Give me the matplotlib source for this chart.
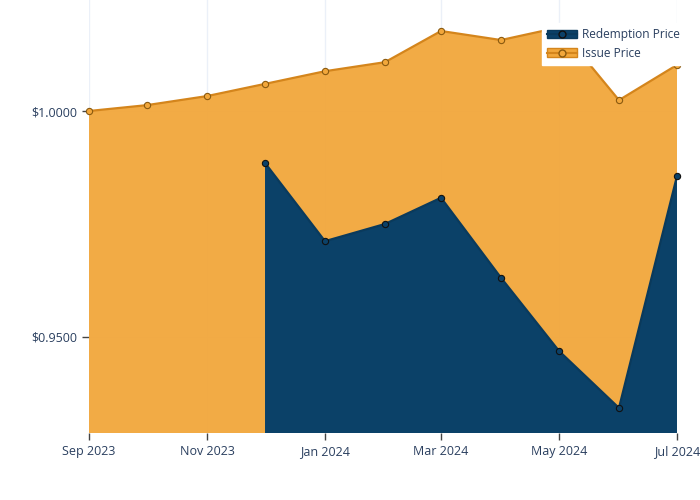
import pandas as pd
import matplotlib
matplotlib.use("Agg")
import matplotlib.pyplot as plt
import matplotlib.dates as mdates
from matplotlib.patches import Patch
from matplotlib.lines import Line2D
from matplotlib.ticker import FuncFormatter

plt.rcParams['font.family'] = ['Open Sans', 'DejaVu Sans']

months = pd.date_range("2023-09-01", "2024-07-01", freq="MS")
issue_price = [1.0000, 1.0013, 1.0033, 1.0060, 1.0088, 1.0108,
               1.0177, 1.0157, 1.0185, 1.0024, 1.0102]
redemption_months = months[3:]
redemption_price = [0.9885, 0.9712, 0.9750, 0.9808, 0.9631,
                    0.9469, 0.9343, 0.9856]

orange = '#F2A73B'
orange_line = '#D4851C'
navy = '#0B4168'
navy_line = '#0A3A5C'
text_col = '#2a3f5f'

fig = plt.figure(figsize=(7, 5), dpi=100)
ax = fig.add_axes([89 / 700, 67 / 500, 588 / 700, 433 / 500])

ymin, ymax = 0.92876, 1.02456
ax.fill_between(months, issue_price, ymin - 1, color=orange, alpha=0.95, linewidth=0, zorder=2)
ax.plot(months, issue_price, color=orange_line, linewidth=1.6, marker='o', markersize=4.5,
        markerfacecolor=orange, markeredgecolor='#8a5a10', markeredgewidth=0.8, zorder=4,
        clip_on=False)
ax.fill_between(redemption_months, redemption_price, ymin - 1, color=navy, linewidth=0, zorder=3)
ax.plot(redemption_months, redemption_price, color=navy_line, linewidth=1.6, marker='o',
        markersize=4.5, markerfacecolor=navy, markeredgecolor='#111111', markeredgewidth=0.8,
        zorder=5, clip_on=False)

ax.set_xlim(months[0], months[-1])
ax.set_ylim(ymin, ymax)
ax.xaxis.set_major_locator(mdates.MonthLocator(bymonth=[1, 3, 5, 7, 9, 11]))
ax.xaxis.set_major_formatter(mdates.DateFormatter('%b %Y'))
ax.set_yticks([0.95, 1.0])
ax.yaxis.set_major_formatter(FuncFormatter(lambda v, p: f"${v:.4f}"))
ax.grid(True, color='#ebf0f8', linewidth=1, zorder=0)
ax.set_axisbelow(True)
for s in ax.spines.values():
    s.set_visible(False)
ax.tick_params(axis='both', colors='#444444', labelcolor=text_col, labelsize=9,
               length=5, width=1, direction='out')

handles = [(Patch(facecolor=navy, edgecolor=navy_line),
            Line2D([], [], color=navy_line, marker='o', markersize=5,
                   markerfacecolor=navy, markeredgecolor='#111111')),
           (Patch(facecolor=orange, edgecolor=orange_line),
            Line2D([], [], color=orange_line, marker='o', markersize=5,
                   markerfacecolor=orange, markeredgecolor='#8a5a10'))]
leg = fig.legend(handles, ['Redemption Price', 'Issue Price'], loc='upper left',
                 bbox_to_anchor=(542 / 700, 1 - 23 / 500), frameon=True, fancybox=False,
                 framealpha=1, edgecolor='white', facecolor='white', fontsize=8.6,
                 handlelength=2.5, handletextpad=0.4, borderpad=0.45, labelspacing=0.45,
                 borderaxespad=0)
for t in leg.get_texts():
    t.set_color(text_col)

fig.savefig('out.png', dpi=100)
